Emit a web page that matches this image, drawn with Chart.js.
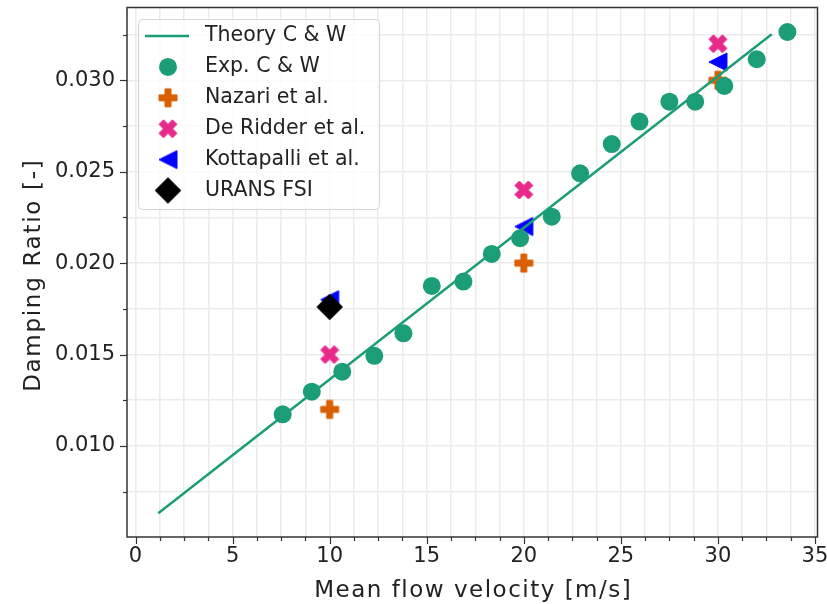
<!DOCTYPE html>
<html>
<head>
<meta charset="utf-8">
<script src="https://cdn.jsdelivr.net/npm/chart.js@4.4.0/dist/chart.umd.min.js"></script>
<style>
  html, body { margin: 0; padding: 0; background: #fff; }
  #wrap { width: 827px; height: 604px; }
</style>
</head>
<body>
<div id="wrap"><canvas id="chart" width="827" height="604"></canvas></div>
<script>
// values
var theoryU    = [1.17, 32.77];
var theoryZeta = [0.00632, 0.03252];

var expU    = [7.58, 9.08, 10.65, 12.30, 13.80, 15.26, 16.89, 18.35, 19.81, 21.44, 22.90, 24.53, 25.96, 27.50, 28.83, 30.33, 32.00, 33.58];
var expZeta = [0.01173, 0.01297, 0.01406, 0.01493, 0.01616, 0.01875, 0.01899, 0.02050, 0.02136, 0.02254, 0.02491, 0.02651, 0.02774, 0.02883, 0.02883, 0.02969, 0.03115, 0.03264];

var refU       = [10, 20, 30];
var nazariZeta = [0.012, 0.020, 0.030];
var ridderZeta = [0.015, 0.024, 0.032];
var kottaZeta  = [0.018, 0.022, 0.031];

var uransU    = [10];
var uransZeta = [0.0176];

var xTickLabels = ['0', '5', '10', '15', '20', '25', '30', '35'];
var yTickLabels = ['0.010', '0.015', '0.020', '0.025', '0.030'];
var xTitle = 'Mean flow velocity [m/s]';
var yTitle = 'Damping Ratio [-]';

var GREEN = '#1b9e77', ORANGE = '#d95f02', PINK = '#e7298a', BLUE = '#0000ff', BLACK = '#000000';
var FONT = 'DejaVu Sans';
var TEXT = '#222222';

// wanted plot box (pixels)
var AREA = { left: 127, top: 7.5, right: 817.5, bottom: 537 };

function pts(xs, ys) {
    return xs.map(function(x, i) { return {x: x, y: ys[i]}; });
}

// filled matplotlib-like marker as an image for pointStyle
function markerCanvas(shape, color, size) {
    var ext = 0;
    shape.forEach(function(p) { ext = Math.max(ext, Math.abs(p[0]), Math.abs(p[1])); });
    var c = document.createElement('canvas');
    c.width = c.height = Math.ceil(size * ext * 2) + 4;
    var g = c.getContext('2d');
    g.translate(c.width / 2, c.height / 2);
    g.beginPath();
    shape.forEach(function(p, i) {
        if (i) g.lineTo(p[0] * size, p[1] * size); else g.moveTo(p[0] * size, p[1] * size);
    });
    g.closePath();
    g.fillStyle = color;
    g.fill();
    g.lineWidth = 1;
    g.strokeStyle = color;
    g.stroke();
    return c;
}

var plusShape = [[-1,-3],[1,-3],[1,-1],[3,-1],[3,1],[1,1],[1,3],[-1,3],[-1,1],[-3,1],[-3,-1],[-1,-1]]
    .map(function(p) { return [p[0] / 6, p[1] / 6]; });
var xShape = [[0.25,0],[0.5,0.25],[0.75,0],[1,0.25],[0.75,0.5],[1,0.75],[0.75,1],[0.5,0.75],[0.25,1],[0,0.75],[0.25,0.5],[0,0.25]]
    .map(function(p) { return [p[0] - 0.5, p[1] - 0.5]; });
var triLeftShape = [[-0.5,0],[0.5,-0.5],[0.5,0.5]];
var diamondShape = [[0,-0.707],[0.707,0],[0,0.707],[-0.707,0]];

var MS = 18;
var plusImg = markerCanvas(plusShape, ORANGE, MS);
var xImg = markerCanvas(xShape, PINK, MS);
var triImg = markerCanvas(triLeftShape, BLUE, MS);
var diaImg = markerCanvas(diamondShape, BLACK, MS);

function isMajor(v, step) {
    var r = v / step;
    return Math.abs(r - Math.round(r)) < 1e-6;
}

// pin the plot box where the figure has it
var boxPlugin = {
    id: 'box',
    afterLayout: function(chart) {
        var a = chart.chartArea, xs = chart.scales.x, ys = chart.scales.y;
        a.left = AREA.left; a.right = AREA.right; a.top = AREA.top; a.bottom = AREA.bottom;
        a.width = a.right - a.left; a.height = a.bottom - a.top;
        xs.left = AREA.left; xs.right = AREA.right; xs.width = a.width;
        xs.top = AREA.bottom; xs.bottom = 604; xs.height = 604 - AREA.bottom;
        ys.left = 0; ys.right = AREA.left; ys.width = AREA.left;
        ys.top = AREA.top; ys.bottom = AREA.bottom; ys.height = a.height;
        xs.configure();
        ys.configure();
    }
};

// spines, tick marks, axis titles and the boxed legend
var framePlugin = {
    id: 'frame',
    afterDraw: function(chart) {
        var ctx = chart.ctx, a = chart.chartArea;
        var xs = chart.scales.x, ys = chart.scales.y;
        ctx.save();
        ctx.strokeStyle = '#333333';
        ctx.lineWidth = 1.2;
        xs.ticks.forEach(function(t) {
            var px = Math.round(xs.getPixelForValue(t.value)) + 0.5;
            var len = isMajor(t.value, 5) ? 7 : 4;
            ctx.beginPath(); ctx.moveTo(px, a.bottom); ctx.lineTo(px, a.bottom + len); ctx.stroke();
        });
        ys.ticks.forEach(function(t) {
            var py = Math.round(ys.getPixelForValue(t.value)) + 0.5;
            var len = isMajor(t.value, 0.005) ? 7 : 4;
            ctx.beginPath(); ctx.moveTo(a.left, py); ctx.lineTo(a.left - len, py); ctx.stroke();
        });
        ctx.lineWidth = 1.5;
        ctx.strokeRect(a.left, a.top, a.right - a.left, a.bottom - a.top);

        // axis titles
        ctx.fillStyle = TEXT;
        ctx.font = '23px "' + FONT + '"';
        ctx.letterSpacing = '1.5px';
        ctx.textAlign = 'center';
        ctx.textBaseline = 'alphabetic';
        ctx.fillText(xTitle, (a.left + a.right) / 2 + 1, 596.5);
        ctx.save();
        ctx.translate(40, (a.top + a.bottom) / 2 + 3);
        ctx.rotate(-Math.PI / 2);
        ctx.letterSpacing = '1.7px';
        ctx.fillText(yTitle, 0, 0);
        ctx.restore();
        ctx.letterSpacing = '0px';

        // legend
        var lx = 138.5, ly = 19.5, lw = 241, lh = 190;
        ctx.beginPath();
        ctx.roundRect(lx, ly, lw, lh, 4);
        ctx.fillStyle = 'rgba(255,255,255,0.8)';
        ctx.fill();
        ctx.strokeStyle = '#d5d5d5';
        ctx.lineWidth = 1;
        ctx.stroke();
        ctx.font = '20.5px "' + FONT + '"';
        ctx.textBaseline = 'middle';
        ctx.textAlign = 'left';
        chart.data.datasets.forEach(function(ds, i) {
            var y = 36 + i * 30.9;
            if (ds.showLine) {
                ctx.strokeStyle = ds.borderColor;
                ctx.lineWidth = ds.borderWidth;
                ctx.beginPath(); ctx.moveTo(145, y); ctx.lineTo(189, y); ctx.stroke();
            } else {
                ctx.fillStyle = ds.backgroundColor;
                ctx.strokeStyle = ds.borderColor;
                Chart.helpers.drawPoint(ctx, {pointStyle: ds.pointStyle, radius: ds.pointRadius, rotation: 0, borderWidth: 0}, 168, y);
            }
            ctx.fillStyle = TEXT;
            ctx.fillText(ds.label, 205, y);
        });
        ctx.restore();
    }
};

var config = {
    type: 'scatter',
    data: {
        datasets: [{
            label: 'Theory C & W',
            data: pts(theoryU, theoryZeta),
            showLine: true,
            borderColor: GREEN,
            backgroundColor: GREEN,
            borderWidth: 2.5,
            pointRadius: 0,
            order: 0
        }, {
            label: 'Exp. C & W',
            data: pts(expU, expZeta),
            pointStyle: 'circle',
            pointRadius: 9,
            backgroundColor: GREEN,
            borderColor: GREEN,
            borderWidth: 0,
            order: 1
        }, {
            label: 'Nazari et al.',
            data: pts(refU, nazariZeta),
            pointStyle: plusImg,
            pointRadius: 9,
            backgroundColor: ORANGE,
            borderColor: ORANGE,
            order: 5
        }, {
            label: 'De Ridder et al.',
            data: pts(refU, ridderZeta),
            pointStyle: xImg,
            pointRadius: 9,
            backgroundColor: PINK,
            borderColor: PINK,
            order: 4
        }, {
            label: 'Kottapalli et al.',
            data: pts(refU, kottaZeta),
            pointStyle: triImg,
            pointRadius: 9,
            backgroundColor: BLUE,
            borderColor: BLUE,
            order: 3
        }, {
            label: 'URANS FSI',
            data: pts(uransU, uransZeta),
            pointStyle: diaImg,
            pointRadius: 12,
            backgroundColor: BLACK,
            borderColor: BLACK,
            order: 2
        }]
    },
    options: {
        responsive: false,
        animation: false,
        events: [],
        layout: { padding: { top: AREA.top, right: 827 - AREA.right, left: 0, bottom: 0 } },
        plugins: {
            legend: { display: false },
            tooltip: { enabled: false }
        },
        scales: {
            x: {
                type: 'linear',
                min: -0.44,
                max: 35.13,
                afterFit: function(scale) { scale.height = 604 - AREA.bottom; },
                border: { display: false },
                grid: { color: '#ebebeb', lineWidth: 1.5, drawTicks: false },
                ticks: {
                    stepSize: 1.25,
                    includeBounds: false,
                    autoSkip: false,
                    maxRotation: 0,
                    padding: 7,
                    color: TEXT,
                    font: { family: FONT, size: 21 },
                    callback: function(v) {
                        return isMajor(v, 5) ? xTickLabels[Math.round(v / 5)] : '';
                    }
                },
                title: { display: false }
            },
            y: {
                type: 'linear',
                min: 0.00502,
                max: 0.03398,
                afterFit: function(scale) { scale.width = AREA.left; },
                border: { display: false },
                grid: { color: '#ebebeb', lineWidth: 1.5, drawTicks: false },
                ticks: {
                    stepSize: 0.0025,
                    includeBounds: false,
                    autoSkip: false,
                    padding: 12,
                    color: TEXT,
                    font: { family: FONT, size: 21 },
                    callback: function(v) {
                        return isMajor(v, 0.005) ? yTickLabels[Math.round(v / 0.005) - 2] : '';
                    }
                },
                title: { display: false }
            }
        }
    },
    plugins: [boxPlugin, framePlugin]
};

var chart = new Chart(document.getElementById('chart').getContext('2d'), config);
</script>
</body>
</html>
